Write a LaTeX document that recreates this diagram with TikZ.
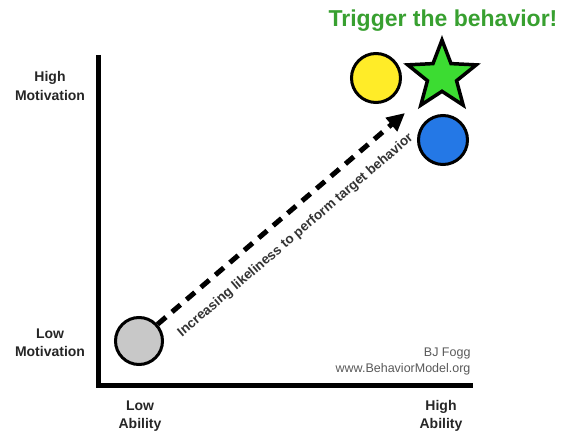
\documentclass[tikz,border=0pt]{standalone}
\usepackage{fontspec}
\setmainfont{Liberation Sans}
\usetikzlibrary{positioning,arrows.meta,shapes.geometric}
\definecolor{trigreen}{RGB}{56,160,48}
\definecolor{stargreen}{RGB}{60,220,50}
\definecolor{dotyellow}{RGB}{255,236,40}
\definecolor{dotblue}{RGB}{36,120,230}
\definecolor{dotgray}{RGB}{200,200,200}

\begin{document}
\begin{tikzpicture}[x=1pt,y=-1pt,
  axislbl/.style={align=center,font=\bfseries\fontsize{14}{18}\selectfont,text=black!85},
  dot/.style={circle,draw=black,line width=3pt,inner sep=0pt,minimum size=#1},
  credit/.style={align=right,anchor=east,font=\fontsize{12.5}{16}\selectfont,text=black!65}]
\useasboundingbox (0,0) rectangle (563,435);
% Axes
\coordinate (top) at (98,55);
\coordinate (origin) at (98,386);
\coordinate (right) at (473,386);
\draw[line width=5pt] (top) -- (origin) -- (right);
% Axis labels
\node[axislbl] (hmot) at (50,86) {High\\Motivation};
\node[axislbl] (lmot) at (50,343) {Low\\Motivation};
\node[axislbl] (labil) at (140,416) {Low\\Ability};
\node[axislbl] (habil) at (441,416) {High\\Ability};
% Dots and star
\node[dot=47pt,fill=dotgray] (gray) at (139,341) {};
\node[dot=49pt,fill=dotyellow] (yellow) at (376,78) {};
\node[dot=49pt,fill=dotblue] (blue) at (443,140) {};
\node[star,star points=5,star point ratio=2.35,draw=black,line width=3.5pt,
  fill=stargreen,minimum size=72pt,inner sep=0pt] (star) at (442,76) {};
\node[font=\bfseries\fontsize{23}{26}\selectfont,text=trigreen] (title) at (443,21)
  {Trigger the behavior!};
% Arrow
\coordinate (tip) at (405,113);
\draw[line width=5pt,dash pattern=on 11pt off 8pt,
  -{Triangle[length=18pt,width=17pt]}] (gray.42) -- (tip)
  node[midway,sloped,below=10pt,font=\bfseries\fontsize{13.5}{15}\selectfont,text=black!80]
  (lbl) {Increasing likeliness to perform target behavior};
\node[credit] (fogg) at (474,361) {BJ Fogg\\www.BehaviorModel.org};
\end{tikzpicture}
\end{document}
